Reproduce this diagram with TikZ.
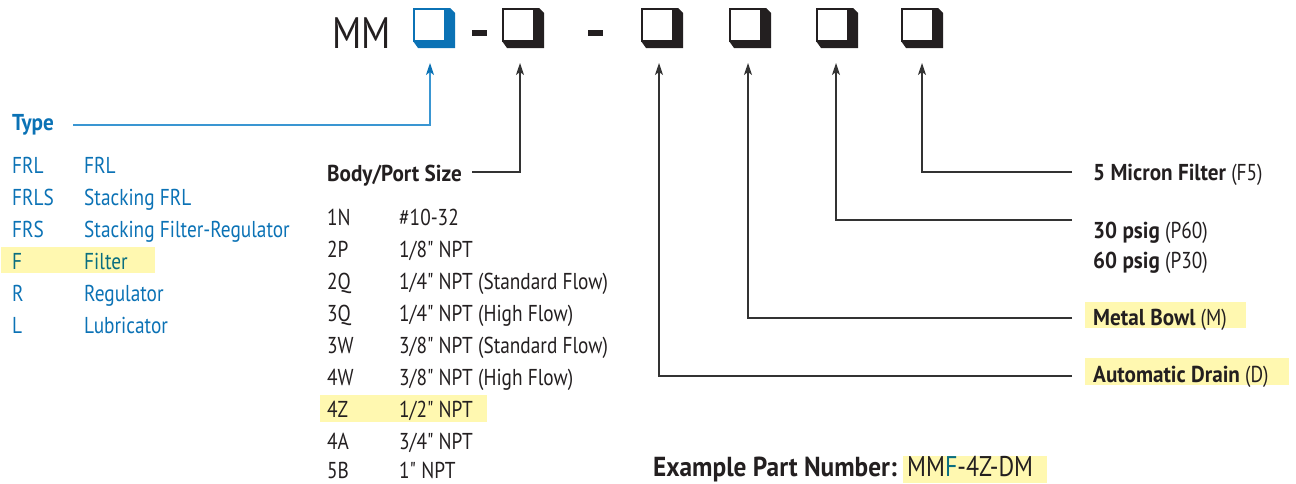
\documentclass[tikz,border=0pt]{standalone}
\usepackage{fontspec}
\setmainfont{PT Sans}[Ligatures=TeXOff, FakeStretch=0.84, BoldFeatures={FakeStretch=0.92}]
\usetikzlibrary{arrows.meta}
\definecolor{ink}{HTML}{231F20}
\definecolor{pblue}{HTML}{0B72B5}
\definecolor{lblue}{HTML}{3A96D2}
\definecolor{hl}{HTML}{FFF8B0}
\definecolor{teal}{HTML}{0A6E80}
\definecolor{lineg}{HTML}{333333}
\tikzset{
  txt/.style={anchor=base west, inner sep=0pt, font=\fontsize{23}{23}\selectfont, text=ink},
  btxt/.style={txt, font=\fontsize{23}{23}\selectfont\bfseries},
  btype/.style={txt, text=pblue},
  conn/.style={draw=lineg, line width=1.3pt, -{Stealth[length=12pt,width=8pt,inset=3pt]}},
  pics/codebox/.style={code={
    \fill[#1] (0,33) -- (5,40) -- (42,40) -- (42,5) -- (37,0) -- (32,0) -- (32,33) -- cycle;
    \draw[#1, line width=1.5pt, fill=white] (0.75,0.75) rectangle (32,33);
  }}
}
\begin{document}
\begin{tikzpicture}[x=1pt,y=-1pt]
\useasboundingbox (0,0) rectangle (1296,483);
% header
\node[anchor=base west, inner sep=0pt, font=\fontsize{44}{44}\selectfont, text=ink] (mm) at (332,48) {MM};
\pic at (413,8) {codebox=pblue};
\pic at (502,8) {codebox=ink};
\pic at (641,8) {codebox=ink};
\pic at (729,8) {codebox=ink};
\pic at (816,8) {codebox=ink};
\pic at (901,8) {codebox=ink};
\fill[ink] (472,30) rectangle (487,36);
\fill[ink] (588,30) rectangle (603,36);
% arrow tips
\coordinate (t1) at (430,63);
\coordinate (t2) at (520,63);
\coordinate (t3) at (659,63);
\coordinate (t4) at (748,63);
\coordinate (t5) at (836,63);
\coordinate (t6) at (922,63);
% highlights
\fill[hl] (1,247) rectangle (155,273);
\fill[hl] (320,395) rectangle (487,422);
\fill[hl] (1085,302) rectangle (1246,328);
\fill[hl] (1085,358) rectangle (1289,385);
\fill[hl] (903,456) rectangle (1047,483);
% Type
\node[btxt, text=pblue] (type) at (12,130) {Type};
\foreach \c/\d/\y/\n in {FRL/FRL/173/a, FRLS/Stacking FRL/205/b, FRS/Stacking Filter-Regulator/237/c, R/Regulator/301/e, L/Lubricator/333/f}{
  \node[btype] (tc\n) at (12,\y) {\c};
  \node[btype] (td\n) at (84,\y) {\d};
}
\node[btype, text=teal] (tcd) at (12,269) {F};
\node[btype, text=teal] (tdd) at (84,269) {Filter};
% Body/Port size
\node[btxt] (body) at (327,181) {Body/Port Size};
\foreach \c/\d/\y/\n in {1N/{\#10-32}/225/a, 2P/{1/8" NPT}/257/b, 2Q/{1/4" NPT (Standard Flow)}/289/c, 3Q/{1/4" NPT (High Flow)}/321/d, 3W/{3/8" NPT (Standard Flow)}/353/e, 4W/{3/8" NPT (High Flow)}/385/f, 4Z/{1/2" NPT}/417/g, 4A/{3/4" NPT}/449/h, 5B/{1" NPT}/478/i}{
  \node[txt] (bc\n) at (327,\y) {\c};
  \node[txt] (bd\n) at (399,\y) {\d};
}
% right labels
\node[txt] (f5) at (1093,180) {\textbf{5 Micron Filter} (F5)};
\node[txt] (p60) at (1093,238) {\textbf{30 psig} (P60)};
\node[txt] (p30) at (1093,268) {\textbf{60 psig} (P30)};
\node[txt] (bowl) at (1093,325) {\textbf{Metal Bowl} (M)};
\node[txt] (drain) at (1093,382) {\textbf{Automatic Drain} (D)};
% example
\node[anchor=base west, inner sep=0pt, font=\fontsize{27.5}{27.5}\selectfont\bfseries, text=ink] (ex) at (653,476) {Example Part Number:};
\node[anchor=base west, inner sep=0pt, font=\fontsize{28.5}{28.5}\selectfont, text=ink] (exn) at (907,476) {MM\textcolor{teal}{F}-4Z-DM};
% connector start points
\coordinate (s1) at (73,125);
\coordinate (s2) at (472,172);
\coordinate (s3) at (1072,376);
\coordinate (s4) at (1072,318);
\coordinate (s5) at (1072,220);
\coordinate (s6) at (1072,172);
\draw[conn, draw=lblue, -{Stealth[length=12pt,width=8pt,inset=3pt,fill=pblue,color=pblue]}] (s1) -| (t1);
\draw[conn] (s2) -| (t2);
\draw[conn] (s3) -| (t3);
\draw[conn] (s4) -| (t4);
\draw[conn] (s5) -| (t5);
\draw[conn] (s6) -| (t6);
\end{tikzpicture}
\end{document}
